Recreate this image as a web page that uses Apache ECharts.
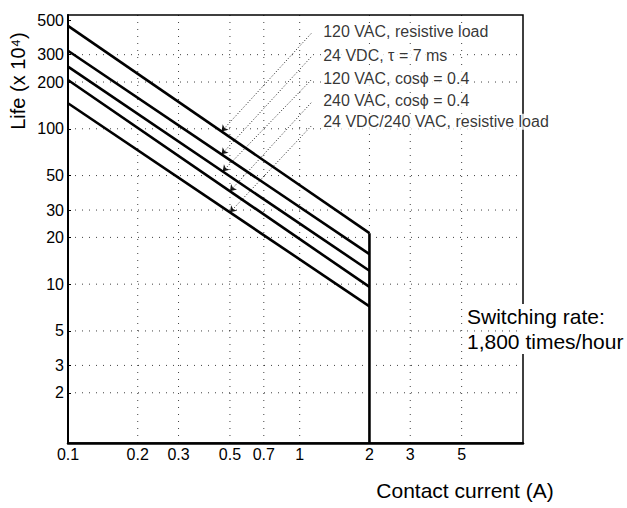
<!DOCTYPE html>
<html>
<head>
<meta charset="utf-8">
<script src="https://cdn.jsdelivr.net/npm/echarts@6/dist/echarts.min.js"></script>
<style>
  html, body { margin: 0; background: #fff; }
  #chart { width: 627px; height: 508px; }
</style>
</head>
<body>
<div id="chart"></div>
<script>
// tick labels and dotted grid positions
const xTicks = [0.1, 0.2, 0.3, 0.5, 0.7, 1, 2, 3, 5];
const yTicks = [2, 3, 5, 10, 20, 30, 50, 100, 200, 300, 500];
const xGrid = [0.2, 0.3, 0.5, 0.7, 1, 2, 3, 5];
const yGrid = [2, 3, 5, 10, 20, 30, 50, 100, 200, 300];
const xMin = 0.1, xMax = 9.2;
const yMin = 0.95, yMax = 540;

// life curves: value at 0.1 A and at 2 A (x 10^4 operations)
const loads = [
  "120 VAC, resistive load",
  "24 VDC, τ = 7 ms",
  "120 VAC, cosϕ = 0.4",
  "240 VAC, cosϕ = 0.4",
  "24 VDC/240 VAC, resistive load",
];
const lifeAt01 = [460, 318, 251, 206, 146];
const lifeAt2 = [21.3, 15.6, 12.2, 9.6, 7.2];
const maxCurrent = 2;

// annotation labels and leader lines
const labelX = 1.22;
const labelY = [420, 298, 212, 151, 111];
const leaderFromX = 1.12;
const leaderFromY = [410, 290, 206, 147, 104];
const leaderToX = [0.46, 0.46, 0.465, 0.5, 0.5];

const FONT = '"Liberation Sans", Arial, "DejaVu Sans", sans-serif';

const lifeOn = (i, x) => {
  const s = Math.log10(lifeAt2[i] / lifeAt01[i]) / Math.log10(maxCurrent / 0.1);
  return lifeAt01[i] * Math.pow(x / 0.1, s);
};

const chart = echarts.init(document.getElementById("chart"), null, { renderer: "svg" });

const gridStyle = { color: "#000", width: 1, type: [1, 6], opacity: 0.75 };
const gridSeries = xGrid
  .map((v) => [[v, yMin], [v, yMax]])
  .concat(yGrid.map((v) => [[xMin, v], [xMax, v]]))
  .map((data, i) => ({
    name: "grid" + i,
    type: "line",
    data,
    symbol: "none",
    silent: true,
    z: 1,
    lineStyle: gridStyle,
  }));

const curveSeries = loads.map((name, i) => ({
  name,
  type: "line",
  data: [[0.1, lifeAt01[i]], [maxCurrent, lifeAt2[i]]],
  symbol: "none",
  silent: true,
  z: 3,
  lineStyle: { color: "#000", width: 2.6 },
}));

const option = {
  animation: false,
  grid: {
    left: 68, right: 104, top: 15, bottom: 65,
    show: true, borderColor: "#000", borderWidth: 1.5,
  },
  xAxis: {
    type: "log",
    min: xMin,
    max: xMax,
    axisLine: { show: true, lineStyle: { color: "#000", width: 2.5 } },
    axisTick: { show: false },
    splitLine: { show: false },
    axisLabel: {
      customValues: xTicks,
      color: "#000",
      fontFamily: FONT,
      fontSize: 16,
      margin: 3,
      formatter: (v) => String(v),
    },
  },
  yAxis: {
    type: "log",
    min: yMin,
    max: yMax,
    axisLine: { show: true, lineStyle: { color: "#000", width: 2 } },
    axisTick: { show: true, inside: true, length: 3, customValues: yTicks, lineStyle: { color: "#000" } },
    splitLine: { show: false },
    axisLabel: {
      customValues: yTicks,
      color: "#000",
      fontFamily: FONT,
      fontSize: 16,
      margin: 4,
      formatter: (v) => String(v),
    },
  },
  series: [
    ...gridSeries,
    ...curveSeries,
    {
      name: "cutoff",
      type: "line",
      data: [[maxCurrent, lifeAt2[0]], [maxCurrent, yMin]],
      symbol: "none",
      silent: true,
      z: 3,
      lineStyle: { color: "#000", width: 2.6 },
    },
    {
      name: "leaders",
      type: "lines",
      coordinateSystem: "cartesian2d",
      silent: true,
      symbol: ["none", "arrow"],
      symbolSize: 6,
      lineStyle: { color: "#000", width: 1, type: [1, 2], opacity: 0.9 },
      data: loads.map((n, i) => ({
        coords: [[leaderFromX, leaderFromY[i]], [leaderToX[i], lifeOn(i, leaderToX[i])]],
      })),
    },
    {
      name: "labels",
      type: "scatter",
      silent: true,
      symbolSize: 1,
      z: 4,
      itemStyle: { color: "rgba(0,0,0,0)" },
      data: labelY.map((y) => [labelX, y]),
      label: {
        show: true,
        position: "right",
        distance: 3,
        color: "#000",
        fontFamily: FONT,
        fontSize: 16,
        backgroundColor: "#fff",
        formatter: (p) => loads[p.dataIndex],
      },
    },
  ],
  graphic: [
    {
      type: "text",
      x: 18, y: 81,
      rotation: Math.PI / 2,
      style: {
        text: "Life (x 10⁴)",
        font: "20px " + FONT,
        fill: "#000",
        align: "center",
        verticalAlign: "middle",
      },
    },
    {
      type: "text",
      x: 465, y: 490,
      style: {
        text: "Contact current (A)",
        font: "21px " + FONT,
        fill: "#000",
        align: "center",
        verticalAlign: "middle",
      },
    },
    {
      type: "text",
      x: 467, y: 304,
      style: {
        text: "Switching rate:\n1,800 times/hour",
        font: "21px " + FONT,
        lineHeight: 25,
        fill: "#000",
        backgroundColor: "#fff",
        align: "left",
        verticalAlign: "top",
      },
    },
  ],
};

chart.setOption(option);
</script>
</body>
</html>
